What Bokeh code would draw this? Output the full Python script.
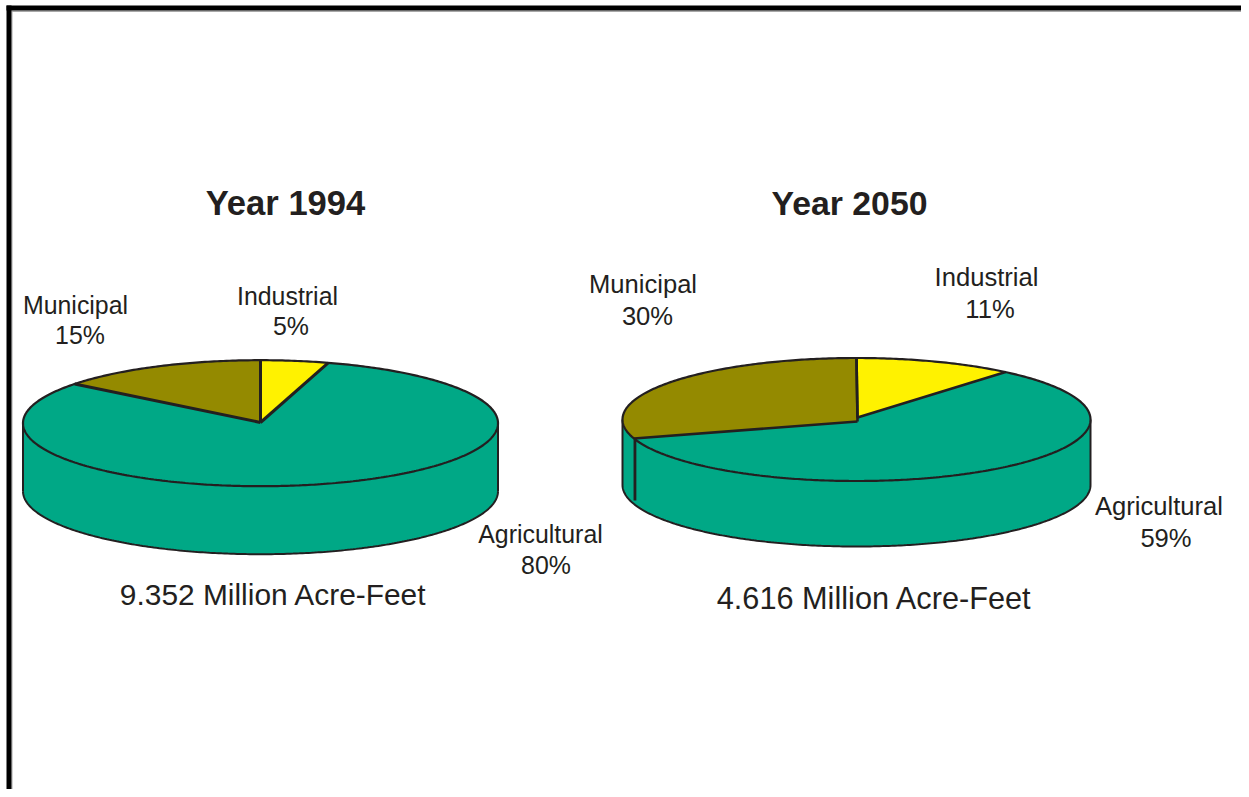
import numpy as np
from bokeh.plotting import figure
from bokeh.embed import file_html
from bokeh.resources import INLINE
from bokeh.core.properties import value

# ---- data ----
categories = ["Agricultural", "Industrial", "Municipal"]
labels_1994 = ["80%", "5%", "15%"]
labels_2050 = ["59%", "11%", "30%"]
shares_1994 = [81.1, 4.6, 14.3]   # drawn slice sizes
shares_2050 = [59.0, 11.0, 30.0]
title_1994 = "Year 1994"
title_2050 = "Year 2050"
total_1994 = "9.352 Million Acre-Feet"
total_2050 = "4.616 Million Acre-Feet"

# ---- styling ----
COLORS = {"Agricultural": "#00a886", "Industrial": "#fff200", "Municipal": "#948a00"}
INK = "#231f20"
FONT = value("Liberation Sans")

p = figure(width=1241, height=789, x_range=(0, 1241), y_range=(789, 0),
           output_backend="svg", toolbar_location=None, min_border=0)
p.axis.visible = False
p.grid.visible = False
p.outline_line_color = None
p.background_fill_color = "white"
p.border_fill_color = "white"

# page frame
p.quad(left=[11], right=[1241], top=[10], bottom=[11.5], color="#a8a8a8", line_color=None)
p.quad(left=[11], right=[12], top=[10], bottom=[789], color="#a8a8a8", line_color=None)
p.quad(left=[6], right=[1241], top=[5], bottom=[10], color="black", line_color=None)
p.quad(left=[6], right=[11], top=[5], bottom=[789], color="black", line_color=None)


def ell(cx, cy, rx, ry, a0, a1, n=240):
    """Points of an elliptical arc; angle in percent of the pie, clockwise from top."""
    t = np.radians(np.linspace(a0, a1, n) * 3.6)
    return cx + rx * np.sin(t), cy - ry * np.cos(t)


def pie(shares, cx, cy, rx, ry, depth, apex, inner_edge=None, cut_w=2.4, seam_dx=0):
    # side wall
    xs, ys = ell(cx, cy + depth, rx, ry, 25, 75)
    p.patch(np.r_[xs, cx - rx, cx + rx], np.r_[ys, cy, cy],
            color=COLORS["Agricultural"], line_color=None)
    p.line(xs, ys, line_color=INK, line_width=2)
    p.segment([cx - rx, cx + rx], [cy, cy], [cx - rx, cx + rx], [cy + depth, cy + depth],
              line_color=INK, line_width=2)

    s = dict(zip(categories, shares))
    # Agricultural runs clockwise from the end of Industrial to the start of Municipal
    order = [("Agricultural", s["Industrial"], 100 - s["Municipal"]),
             ("Municipal", 100 - s["Municipal"], 100),
             ("Industrial", 0, s["Industrial"])]
    for name, a0, a1 in order:
        x, y = ell(cx, cy, rx, ry, a0, a1)
        ax, ay = apex[name]
        p.patch(np.r_[ax, x], np.r_[ay, y], color=COLORS[name], line_color=None)
    # rim of the top
    x, y = ell(cx, cy, rx, ry, 0, 100, 480)
    p.line(x, y, line_color=INK, line_width=2.2)
    # slice edges
    for name, a0, a1 in order[1:]:
        ax, ay = apex[name]
        for a in (a0, a1):
            ex, ey = ell(cx, cy, rx, ry, a, a, 1)
            p.line([ax, ex[0]], [ay, ey[0]], line_color=INK, line_width=cut_w)
    # wall seam below the Municipal edge, when it falls on the visible wall
    if inner_edge is not None:
        ex, ey = ell(cx, cy, rx, ry, 100 - s["Municipal"], 100 - s["Municipal"], 1)
        p.line([ex[0] + seam_dx] * 2, [ey[0], ey[0] + inner_edge], line_color=INK, line_width=2.8)


pie(shares_1994, 260, 422.7, 237.5, 63, 68,
    {"Agricultural": (260, 422), "Municipal": (260, 422), "Industrial": (260, 422)}, cut_w=3)
pie(shares_2050, 856, 419, 234, 61.5, 65.5,
    {"Agricultural": (857, 417), "Municipal": (857, 421), "Industrial": (857, 417)},
    inner_edge=62, cut_w=2.6, seam_dx=1)


def txt(x, y, s, size, bold=False):
    p.text(x=[x], y=[y], text=[s], text_font=FONT, text_font_size=f"{size}px",
           text_font_style="bold" if bold else "normal", text_color=INK,
           text_align="center", text_baseline="middle")


txt(285, 202, title_1994, 34.6, True)
txt(849, 202, title_2050, 33.8, True)

A, I, M = categories
txt(75, 304, M, 24.9);    txt(79.5, 334, labels_1994[2], 24.9)
txt(287, 295, I, 24.9);   txt(290.5, 325, labels_1994[1], 24.9)
txt(540, 533, A, 24.9);   txt(545.5, 564, labels_1994[0], 24.9)
txt(273, 594, total_1994, 29.9)

txt(642.5, 283, M, 25.6); txt(647, 315, labels_2050[2], 25.6)
txt(986, 276, I, 25.6);   txt(989.5, 308, labels_2050[1], 25.6)
txt(1158.5, 505, A, 25.6); txt(1165.5, 537, labels_2050[0], 25.6)
txt(874, 598, total_2050, 30.7)

open("out.html", "w").write(file_html(p, INLINE))
